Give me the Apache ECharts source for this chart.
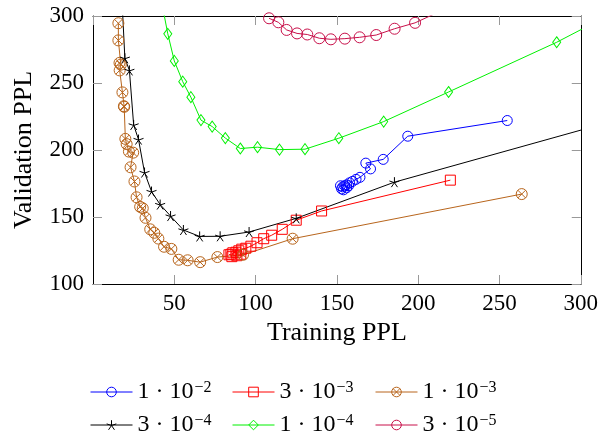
<!DOCTYPE html>
<html>
<head>
<meta charset="utf-8">
<script src="https://cdn.jsdelivr.net/npm/echarts@6/dist/echarts.min.js"></script>
<style>
html,body{margin:0;padding:0;background:#fff;}
#chart{width:601px;height:432px;}
</style>
</head>
<body>
<div id="chart"></div>
<script>
// ---- data (Training PPL, Validation PPL) ----
const xTicks = [0, 50, 100, 150, 200, 250, 300];
const yTicks = [100, 150, 200, 250, 300];

const blueTrain = [254.8, 193.6, 178.5, 167.8, 170.7, 164.2, 161.8, 159.6, 157.8, 157.2, 156.0, 156.0, 154.8, 153.6, 152.2, 154.1, 152.9];
const blueVal   = [222.0, 210.3, 193.0, 190.2, 185.9, 179.6, 178.1, 176.6, 175.5, 173.3, 174.0, 171.8, 173.3, 172.5, 173.3, 170.3, 171.0];

const redTrain = [219.8, 140.6, 125.0, 116.4, 109.9, 105.0, 100.9, 97.1, 94.0, 91.5, 90.9, 89.7, 88.5, 87.9, 86.0, 85.4, 84.8, 83.6];
const redVal   = [177.5, 154.5, 147.6, 140.8, 136.4, 133.8, 130.8, 128.2, 126.7, 126.0, 122.2, 124.8, 121.1, 123.7, 123.3, 120.4, 122.2, 121.8];

const brownTrain = [263.7, 122.8, 92.3, 76.5, 65.9, 58.2, 52.7, 48.2, 43.7, 40.2, 37.7, 35.2, 32.3, 30.6, 29.0, 26.8, 25.5, 23.1, 24.7, 22.1, 20.7, 19.9, 19.2, 19.0, 18.1, 16.4, 17.1, 16.3, 15.6, 15.6];
const brownVal   = [167.1, 133.8, 121.8, 120.1, 116.3, 117.7, 118.1, 126.2, 127.8, 133.9, 138.2, 140.8, 149.4, 156.5, 157.6, 164.7, 176.5, 187.1, 198.0, 198.8, 204.4, 208.3, 232.2, 232.7, 243.0, 259.4, 263.7, 265.0, 281.8, 294.6];

const blackTrain = [17.5, 19.6, 22.4, 25.0, 28.0, 31.7, 36.0, 41.3, 47.7, 55.6, 65.6, 78.2, 96.0, 125.0, 185.4, 320];
const blackVal   = [320, 268.5, 259.4, 218.7, 207.8, 183.2, 169.0, 159.3, 150.7, 140.3, 135.5, 135.6, 138.8, 149.0, 176.0, 221.6];

const greenTrain = [41.5, 46.0, 50.0, 55.2, 60.2, 66.4, 73.3, 81.4, 90.6, 101.2, 114.7, 130.4, 151.2, 178.8, 218.7, 285.2, 340];
const greenVal   = [315, 286.7, 266.5, 251.0, 239.4, 222.3, 217.5, 208.9, 201.1, 202.1, 200.3, 200.6, 208.8, 221.2, 243.3, 280.4, 315];

const purpleTrain = [108.3, 114.0, 119.1, 125.5, 131.8, 139.2, 146.3, 154.9, 164.0, 174.2, 185.5, 198.1, 218];
const purpleVal   = [298.3, 295.3, 289.6, 287.0, 286.2, 283.4, 282.6, 283.1, 284.1, 285.8, 290.5, 294.9, 306];

const seriesNames = ['1e-2', '3e-3', '1e-3', '3e-4', '1e-4', '3e-5'];
const legendMant = ['1', '3', '1', '3', '1', '3'];
const legendExp  = ['\u22122', '\u22123', '\u22123', '\u22124', '\u22124', '\u22125'];

// ---- styling ----
const FONT = 'Liberation Serif';
const colors = ['#0000ff', '#ff0000', '#b8651c', '#000000', '#00f000', '#c8104a'];
const SYM = {
  circle: 'path://M1,0A1,1,0,1,1,-1,0A1,1,0,1,1,1,0Z',
  square: 'path://M-1,-1L1,-1L1,1L-1,1Z',
  otimes: 'path://M1,0A1,1,0,1,1,-1,0A1,1,0,1,1,1,0ZM0.7071,0.7071L-0.7071,-0.7071M-0.7071,0.7071L0.7071,-0.7071',
  star: 'path://M0,-1L0,0M0.9511,-0.309L0,0M0.5878,0.809L0,0M-0.5878,0.809L0,0M-0.9511,-0.309L0,0',
  diamond: 'path://M0,-1L1,0L0,1L-1,0Z'
};
const symbols = [SYM.circle, SYM.square, SYM.otimes, SYM.star, SYM.diamond, SYM.circle];
const symSizes = [10, 10, 11, 10, [8, 11], 11];
const trains = [blueTrain, redTrain, brownTrain, blackTrain, greenTrain, purpleTrain];
const vals = [blueVal, redVal, brownVal, blackVal, greenVal, purpleVal];

function zip(a, b) { return a.map((v, i) => [v, b[i]]); }

const series = seriesNames.map((n, i) => ({
  name: n,
  type: 'line',
  data: zip(trains[i], vals[i]),
  symbol: symbols[i],
  symbolSize: symSizes[i],
  symbolKeepAspect: false,
  showAllSymbol: true,
  clip: true,
  animation: false,
  lineStyle: { color: colors[i], width: 1 },
  itemStyle: { color: 'rgba(0,0,0,0)', borderColor: colors[i], borderWidth: 1 },
  emphasis: { disabled: true }
}));

const legendLeft = [90, 232, 375, 90, 232, 375];
const legendTop = [379.5, 379.5, 379.5, 412.5, 412.5, 412.5];
const legends = seriesNames.map((n, i) => ({
  data: [{
    name: n,
    itemStyle: { color: 'rgba(0,0,0,0)', borderColor: colors[i], borderWidth: 1 },
    lineStyle: { color: colors[i], width: 1 }
  }],
  left: legendLeft[i],
  top: legendTop[i],
  padding: 0,
  itemWidth: 42,
  itemHeight: 12,
  itemGap: 0,
  selectedMode: false,
  formatter: () => '{m|' + legendMant[i] + ' \u00b7 10}{s|' + legendExp[i] + '}',
  textStyle: {
    fontFamily: FONT, fontSize: 24, color: '#000',
    rich: {
      m: { fontFamily: FONT, fontSize: 24, color: '#000' },
      s: { fontFamily: FONT, fontSize: 16, color: '#000', verticalAlign: 'top', padding: [0, 0, 9, 1] }
    }
  }
}));

function axisCommon() {
  return {
    axisLine: { show: true, onZero: false, lineStyle: { color: '#000', width: 1 } },
    axisTick: { show: true, inside: true, length: 9, lineStyle: { color: '#999', width: 1 } },
    splitLine: { show: false }
  };
}

const option = {
  animation: false,
  backgroundColor: '#fff',
  grid: { left: 93, right: 19, top: 16, bottom: 148, containLabel: false },
  legend: legends,
  xAxis: [
    Object.assign(axisCommon(), {
      type: 'value', position: 'bottom',
      min: xTicks[0], max: xTicks[xTicks.length - 1], interval: 50,
      name: 'Training PPL', nameLocation: 'middle', nameGap: 31,
      nameTextStyle: { fontFamily: FONT, fontSize: 26, color: '#000' },
      axisLabel: { showMinLabel: false, margin: 8, fontFamily: FONT, fontSize: 23, color: '#000' }
    }),
    Object.assign(axisCommon(), {
      type: 'value', position: 'top',
      min: xTicks[0], max: xTicks[xTicks.length - 1], interval: 50,
      axisLabel: { show: false }
    })
  ],
  yAxis: [
    Object.assign(axisCommon(), {
      type: 'value', position: 'left',
      min: yTicks[0], max: yTicks[yTicks.length - 1], interval: 50,
      name: 'Validation PPL', nameLocation: 'middle', nameGap: 56,
      nameTextStyle: { fontFamily: FONT, fontSize: 26, color: '#000' },
      axisLabel: { margin: 9, fontFamily: FONT, fontSize: 23, color: '#000' }
    }),
    Object.assign(axisCommon(), {
      type: 'value', position: 'right',
      min: yTicks[0], max: yTicks[yTicks.length - 1], interval: 50,
      axisLabel: { show: false }
    })
  ],
  series: series
};

const chart = echarts.init(document.getElementById('chart'), null, { renderer: 'canvas' });
chart.setOption(option);
</script>
</body>
</html>
